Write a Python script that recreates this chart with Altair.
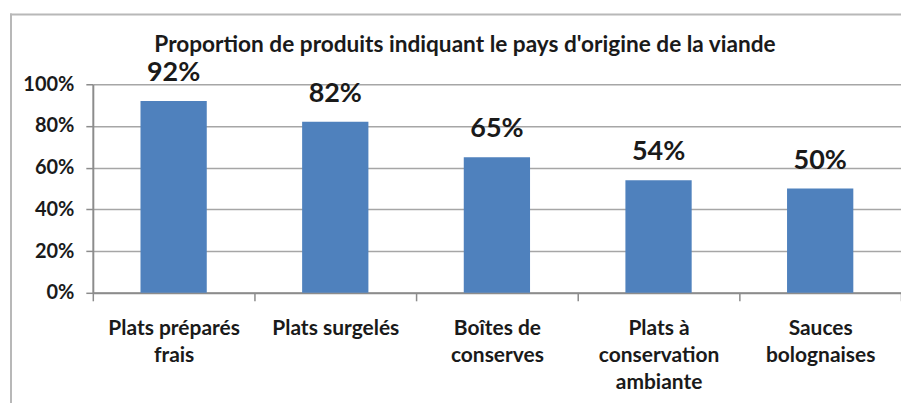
import altair as alt
import pandas as pd

categories = [
    "Plats préparés\nfrais",
    "Plats surgelés",
    "Boîtes de\nconserves",
    "Plats à\nconservation\nambiante",
    "Sauces\nbolognaises",
]
values = [92, 82, 65, 54, 50]
y_ticks = [0, 20, 40, 60, 80, 100]
title_text = "Proportion de produits indiquant le pays d'origine de la viande"

FONT = "Lato"
TEXT = "#1a1a1a"
BAR = "#4F81BD"
GRID = "#a6a6a6"
AXIS = "#8c8c8c"
FRAME = "#b8b8b8"

df = pd.DataFrame({"cat": categories, "val": values})
df["lab"] = [f"{v}%" for v in values]

x_enc = alt.X(
    "cat:N",
    sort=None,
    scale=alt.Scale(paddingInner=0, paddingOuter=0),
    axis=alt.Axis(
        title=None,
        labelAngle=0,
        labelExpr="split(datum.label, '\\n')",
        tickBand="extent",
        labelFont=FONT,
        labelFontWeight="bold",
        labelFontSize=21,
        labelColor=TEXT,
        labelLineHeight=27,
        labelPadding=17,
        labelBaseline="top",
        domainColor=AXIS,
        domainWidth=2,
        tickColor=AXIS,
        tickWidth=1.5,
        tickSize=8,
        grid=False,
    ),
)
y_enc = alt.Y(
    "val:Q",
    scale=alt.Scale(domain=[0, 100], nice=False),
    axis=alt.Axis(
        title=None,
        values=y_ticks,
        labelExpr="datum.value + '%'",
        labelFont=FONT,
        labelFontWeight="bold",
        labelFontSize=20,
        labelColor=TEXT,
        labelPadding=12,
        grid=True,
        gridColor=GRID,
        gridWidth=1.5,
        domainColor=AXIS,
        domainWidth=2,
        tickColor=AXIS,
        tickWidth=1.5,
        tickSize=7,
    ),
)

base = alt.Chart(df)
bars = base.mark_bar(color=BAR, width=alt.RelativeBandSize(0.41)).encode(x=x_enc, y=y_enc)
labels = base.mark_text(
    font=FONT, fontWeight="bold", fontSize=27, color=TEXT, baseline="bottom", dy=-14
).encode(x=alt.X("cat:N", sort=None), y="val:Q", text="lab:N")

title = alt.Chart(pd.DataFrame({"t": [title_text]})).mark_text(
    font=FONT, fontWeight="bold", fontSize=22.7, color=TEXT, baseline="alphabetic", align="center"
).encode(x=alt.value(373), y=alt.value(-32), text="t:N")

one = pd.DataFrame({"a": [0]})
frame_left = alt.Chart(one).mark_rule(color=FRAME, strokeWidth=2).encode(
    x=alt.value(-82), y=alt.value(-71), y2=alt.value(330)
)
frame_top = alt.Chart(one).mark_rule(color=FRAME, strokeWidth=2).encode(
    x=alt.value(-83), x2=alt.value(820), y=alt.value(-70)
)

chart = (
    alt.layer(bars, labels, title, frame_left, frame_top)
    .properties(
        width=810,
        height=209,
        autosize=alt.AutoSizeParams(type="none"),
        padding={"left": 85, "top": 76, "right": 0, "bottom": 110},
        background="white",
    )
    .configure_view(stroke=None)
)

chart.save("out.html", embed_options={"renderer": "svg", "actions": False})
